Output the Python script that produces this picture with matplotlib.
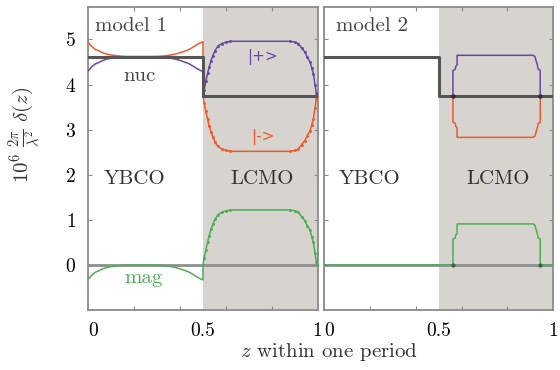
import numpy as np
import matplotlib
matplotlib.use('Agg')
import matplotlib.pyplot as plt

plt.rcParams['font.family'] = ['cmr10', 'DejaVu Serif']
plt.rcParams['mathtext.fontset'] = 'cm'
plt.rcParams['axes.formatter.use_mathtext'] = True

# model 1: smooth magnetic profile, nuclear part is a simple step
z1_ybco = [0, 0.01, 0.02, 0.03, 0.045, 0.06, 0.08, 0.1, 0.13, 0.18, 0.25, 0.32,
           0.36, 0.39, 0.42, 0.44, 0.46, 0.475, 0.49, 0.5]
mag1_ybco = [-0.31, -0.25, -0.2, -0.16, -0.13, -0.09, -0.055, -0.035, -0.015, 0.0,
             0.0, -0.01, -0.035, -0.07, -0.12, -0.16, -0.22, -0.27, -0.31, -0.33]
z1_lcmo = [0.5, 0.505, 0.512, 0.52, 0.527, 0.535, 0.543, 0.552, 0.565, 0.582, 0.6,
           0.62, 0.88, 0.902, 0.916, 0.931, 0.945, 0.955, 0.967, 0.975, 0.982,
           0.989, 0.995, 1.0]
mag1_lcmo = [0, 0.15, 0.33, 0.51, 0.65, 0.79, 0.9, 1.01, 1.11, 1.17, 1.2, 1.22,
             1.22, 1.2, 1.17, 1.07, 0.98, 0.87, 0.77, 0.63, 0.5, 0.26, 0.07, 0]
nuc_ybco = 4.62
nuc_lcmo = 3.74

# model 2: boxy magnetic layer inside LCMO
z2_mag = [0.5, 0.562, 0.562, 0.572, 0.574, 0.58, 0.58, 0.912, 0.92, 0.932, 0.934,
          0.943, 0.943, 1.0]
mag2 = [0, 0, 0.57, 0.6, 0.66, 0.7, 0.91, 0.91, 0.88, 0.66, 0.6, 0.58, 0, 0]

z_step = [0, 0.5, 0.5, 1]
nuc_step = [nuc_ybco, nuc_ybco, nuc_lcmo, nuc_lcmo]

c_plus = '#6a46a8'
c_minus = '#ee5a2c'
c_mag = '#4cae55'
c_nuc = '#555555'
c_zero = '#8e8e8e'
c_shade = '#d7d4cf'
c_frame = '#8a8a8a'

fig = plt.figure(figsize=(5.6, 3.7), dpi=100)
ax1 = fig.add_axes([0.158, 0.162, 0.409, 0.819])
ax2 = fig.add_axes([0.579, 0.162, 0.409, 0.819])

for ax in (ax1, ax2):
    ax.axvspan(0.5, 1, color=c_shade, lw=0, zorder=0)
    ax.axhline(0, color=c_zero, lw=2, zorder=1)
    ax.plot(z_step, nuc_step, color=c_nuc, lw=2.2, zorder=4)
    ax.set_xlim(0, 1)
    ax.set_ylim(-1, 5.72)
    ax.set_xticks([0, 0.5, 1])
    ax.set_xticklabels(['0', '0.5', '1'])
    ax.get_xticklabels()[0].set_horizontalalignment('left')
    ax.set_xticks([0.2, 0.4, 0.6, 0.8], minor=True)
    ax.set_yticks([0, 1, 2, 3, 4, 5])
    ax.tick_params(which='both', direction='in', top=True, right=True,
                   color=c_frame, labelsize=14, pad=9)
    ax.tick_params(axis='x', which='major', length=0)
    ax.tick_params(which='both', width=0.8)
    ax.tick_params(which='minor', length=3)
    ax.tick_params(axis='y', which='major', length=3)
    for s in ax.spines.values():
        s.set_color(c_frame)
        s.set_linewidth(1.3)
    ax.text(0.2, 1.9, 'YBCO', fontsize=15, ha='center', va='center', color='#333333')
    ax.text(0.76, 1.9, 'LCMO', fontsize=15, ha='center', va='center', color='#333333')

ax2.set_yticklabels([])

# model 1 curves
z1 = np.array(z1_ybco + z1_lcmo)
m1 = np.array(mag1_ybco + mag1_lcmo)
n1 = np.array([nuc_ybco] * len(z1_ybco) + [nuc_lcmo] * len(z1_lcmo))
lc = slice(len(z1_ybco), None)
ax1.plot(z1, n1 + m1, color=c_plus, lw=1.1, marker='o', ms=1.1, markevery=lc, zorder=3)
ax1.plot(z1, n1 - m1, color=c_minus, lw=1.1, marker='o', ms=1.1, markevery=lc, zorder=3)
ax1.plot(z1, m1, color=c_mag, lw=1.1, marker='o', ms=1.1, markevery=lc, zorder=3)

ax1.text(0.03, 5.3, 'model 1', fontsize=15, ha='left', va='center', color='#444444')
ax1.text(0.225, 4.2, 'nuc', fontsize=15, ha='center', va='center', color='#444444')
ax1.text(0.24, -0.3, 'mag', fontsize=15, ha='center', va='center', color=c_mag)
ax1.text(0.76, 4.62, '|+>', fontsize=11, ha='center', va='center', color=c_plus,
         family='DejaVu Sans')
ax1.text(0.76, 2.83, '|->', fontsize=11, ha='center', va='center', color=c_minus,
         family='DejaVu Sans')

# model 2 curves
z2 = np.array(z2_mag)
m2 = np.array(mag2)
ax2.plot(z2, nuc_lcmo + m2, color=c_plus, lw=1.1, zorder=3)
ax2.plot(z2, nuc_lcmo - m2, color=c_minus, lw=1.1, zorder=3)
ax2.plot(np.r_[0, z2], np.r_[0, m2], color=c_mag, lw=1.1, zorder=3)
jumps = [i for i in range(1, len(m2)) if m2[i] == 0 and m2[i - 1] != 0] + \
        [i for i in range(len(m2) - 1) if m2[i] == 0 and m2[i + 1] != 0]
ax2.plot(z2[jumps], nuc_lcmo + m2[jumps], 'o', color='#3a2a40', ms=2.2, zorder=5)
ax2.plot(z2[jumps], m2[jumps], 'o', color='#2f6a35', ms=2.0, zorder=5)
ax2.text(0.05, 5.3, 'model 2', fontsize=15, ha='left', va='center', color='#444444')

fig.text(0.045, 1 - 135 / 370, r'$10^6\ \frac{2\pi}{\lambda^2}\ \delta(z)$', fontsize=15,
         rotation=90, ha='center', va='center', color='#333333')
fig.text(0.587, 1 - 352 / 370, r'$z$ within one period', fontsize=15,
         ha='center', va='center', color='#333333')

fig.savefig('out.png', dpi=100)
